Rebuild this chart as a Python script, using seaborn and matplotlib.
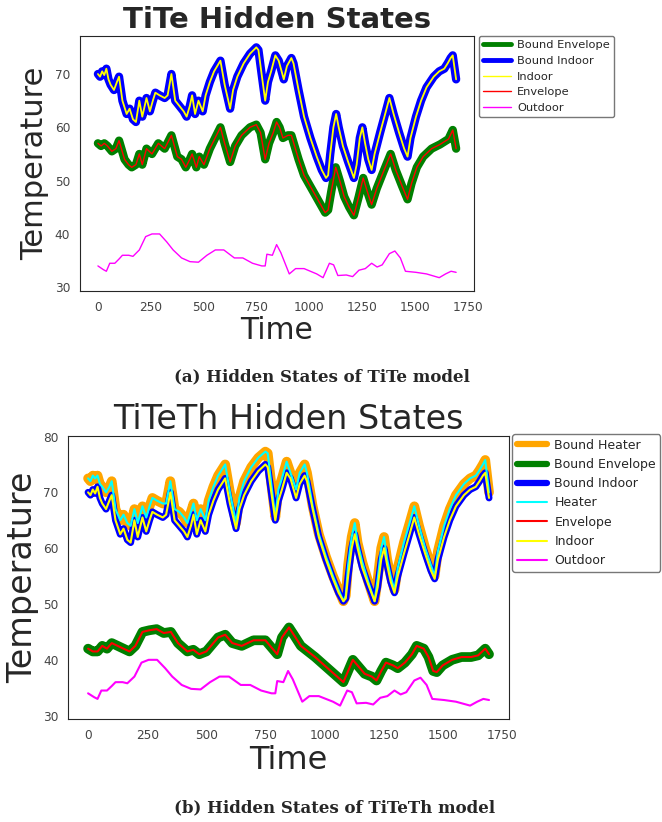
import matplotlib
matplotlib.use("Agg")
import matplotlib.pyplot as plt
import seaborn as sns

# values (time, temperature)
indoor_t = [0, 10, 20, 30, 40, 50, 60, 76, 90, 100, 116, 136, 150, 166, 180, 196, 210, 230, 246, 260,
            272, 292, 316, 330, 348, 366, 386, 406, 420, 435, 446, 460, 476, 496, 510, 530, 550, 580, 600, 626,
            640, 660, 690, 720, 750, 760, 775, 792, 805, 820, 840, 856, 880, 895, 916, 926, 950, 976, 1006, 1036,
            1060, 1080, 1090, 1100, 1115, 1128, 1140, 1160, 1185, 1212, 1225, 1240, 1252, 1265, 1280, 1296, 1310, 1336, 1360, 1380,
            1400, 1426, 1450, 1466, 1480, 1506, 1530, 1556, 1590, 1616, 1640, 1656, 1670, 1680, 1696]
indoor = [70, 69.5, 70.5, 69.8, 71, 69, 68, 67, 68.5, 69.5, 65, 62.5, 63.5, 61.5, 61, 65, 62, 65.5, 63, 65,
          66.5, 66, 65.5, 66, 70, 65, 64, 63, 62, 64, 66, 62.5, 65, 63, 66, 68.5, 70.5, 72.5, 68, 63.5,
          67, 69.5, 72, 73.8, 75, 74.5, 70, 65, 68.5, 70.5, 73.5, 72.5, 69, 71.5, 73, 72, 67, 62, 58, 54.5,
          52, 50.5, 51, 55, 60, 62.5, 60, 56.5, 53.5, 50.5, 53, 58, 60, 57, 54, 52, 55, 59, 62.5, 65.5,
          62.5, 59, 56, 54.5, 58, 62, 65, 67.5, 69.5, 70.5, 71, 72, 73, 73.5, 69]
heater = [72.5, 72, 73, 72.5, 73, 71.5, 71, 70, 71, 72, 67, 65, 66, 64.5, 64, 67, 64.5, 67.5, 65.5, 67.5,
          69, 68.5, 68, 68, 72, 67, 66.5, 65.5, 64.5, 66.5, 68, 65, 67, 65, 68.5, 71, 73, 75, 70, 64.5,
          69, 72, 74.5, 76.2, 77.3, 77, 71.5, 65.5, 70.5, 72.5, 75.5, 73.5, 70.5, 73.5, 75, 73.5, 67.5, 62.5, 58.5, 55,
          52.5, 50.5, 51.5, 57, 62, 64.5, 61, 57.5, 54, 50.5, 54.5, 60, 62, 58, 55, 52.5, 56.5, 61, 64.5, 67.5,
          64, 60, 57, 55, 59.5, 64, 67, 69.5, 71.5, 72.5, 73, 74, 75, 75.8, 70]

env_a_t = [0, 15, 30, 45, 66, 85, 100, 126, 145, 160, 180, 196, 210, 230, 256, 286, 316, 348, 376, 396,
           416, 435, 446, 466, 480, 502, 530, 580, 600, 626, 650, 680, 720, 750, 770, 792, 810, 830, 846, 860,
           876, 900, 916, 950, 976, 1026, 1076, 1090, 1105, 1126, 1145, 1166, 1190, 1212, 1235, 1256, 1275, 1296, 1320, 1350,
           1386, 1410, 1440, 1466, 1485, 1510, 1540, 1580, 1620, 1660, 1680, 1696]
envelope_a = [57, 56.5, 57, 56.5, 55.5, 56, 57.5, 54, 53, 52.5, 53, 55, 53, 56, 55, 57, 56, 58.5, 54.5, 54,
              52.5, 54, 55, 52.5, 54.5, 53, 56, 60, 57, 53.5, 56.5, 58.5, 60, 60.5, 59, 54, 57, 59, 61, 60,
              58, 58.5, 58.5, 54, 51, 47.5, 44, 44.5, 48, 52.5, 50, 47, 45, 43.5, 47, 50.5, 48, 45.5, 48.5, 51.5,
              55, 52, 49, 46.5, 49.5, 52.5, 54.5, 56, 56.8, 57.8, 59.5, 56]

env_b_t = [0, 20, 40, 60, 80, 100, 125, 150, 175, 200, 230, 260, 290, 320, 350, 380, 420, 445, 470, 500,
           530, 550, 580, 610, 650, 700, 750, 780, 800, 820, 850, 870, 900, 930, 960, 1000, 1040, 1080, 1100, 1120,
           1140, 1170, 1200, 1220, 1240, 1260, 1290, 1310, 1340, 1370, 1390, 1420, 1440, 1460, 1475, 1500, 1540, 1580, 1620, 1650,
           1680, 1696]
envelope_b = [42, 41.5, 41.5, 42.5, 42, 43, 42.5, 42, 41.5, 42.5, 45, 45.3, 45.5, 44.8, 45, 43, 41.5, 41.8, 41, 41.5,
              43, 44, 44.5, 43, 42.5, 43.5, 43.5, 42, 41, 44, 45.8, 44.5, 42.5, 41.5, 40.5, 39, 37.5, 36, 38, 40,
              39, 37.5, 37, 36.3, 38, 39.5, 39, 38.5, 39.5, 41, 42.5, 42, 40.5, 38, 37.8, 39, 40, 40.5, 40.5, 40.8,
              42, 41]

out_t = [0, 26, 40, 56, 80, 100, 116, 146, 166, 196, 226, 256, 292, 326, 356, 396, 436, 476, 516, 556,
         596, 646, 686, 732, 776, 792, 800, 826, 846, 866, 886, 906, 936, 976, 1006, 1036, 1066, 1096, 1116, 1136,
         1176, 1206, 1236, 1266, 1296, 1322, 1346, 1380, 1406, 1432, 1456, 1506, 1556, 1616, 1646, 1672, 1696]
outdoor = [34, 33.3, 33, 34.5, 34.5, 35.3, 36, 36, 35.8, 37, 39.5, 40, 40, 38.5, 37, 35.5, 34.8, 34.7, 36, 37,
           37, 35.5, 35.5, 34.5, 34, 34, 36.2, 36, 38, 36.5, 34.5, 32.5, 33.5, 33.5, 33, 32.5, 31.8, 34.5, 34.2, 32.2,
           32.3, 32, 33.2, 33.5, 34.5, 33.8, 34.2, 36.3, 36.8, 35.5, 33, 32.8, 32.5, 31.8, 32.5, 33, 32.8]

time_ticks = [0, 250, 500, 750, 1000, 1250, 1500, 1750]

sns.set_style("white")
fig = plt.figure(figsize=(6.62, 8.22), dpi=100)

# ---- (a) TiTe
ax1 = fig.add_axes([0.1208, 0.646, 0.595, 0.310])
sns.lineplot(x=env_a_t, y=envelope_a, ax=ax1, color="green", linewidth=6, label="Bound Envelope")
sns.lineplot(x=indoor_t, y=indoor, ax=ax1, color="blue", linewidth=6, label="Bound Indoor")
sns.lineplot(x=indoor_t, y=indoor, ax=ax1, color="yellow", linewidth=1.3, label="Indoor")
sns.lineplot(x=env_a_t, y=envelope_a, ax=ax1, color="red", linewidth=1, label="Envelope")
sns.lineplot(x=out_t, y=outdoor, ax=ax1, color="magenta", linewidth=1, label="Outdoor")
ax1.set_xlim(-85, 1780)
ax1.set_ylim(29.3, 77.1)
ax1.set_xticks(time_ticks)
ax1.set_yticks([30, 40, 50, 60, 70])
ax1.tick_params(labelsize=8.7, colors="#444444")
ax1.set_title("TiTe Hidden States", fontsize=21, fontweight="bold", pad=6)
ax1.set_xlabel("Time", fontsize=21.5, labelpad=2)
ax1.set_ylabel("Temperature", fontsize=22, labelpad=4)
leg1 = ax1.legend(loc="upper left", bbox_to_anchor=(1.013, 1.0), fontsize=8.2, frameon=True,
                  fancybox=True, edgecolor="#555555", borderaxespad=0, handlelength=2.5,
                  handletextpad=0.5, borderpad=0.35)
for line, lw in zip(leg1.get_lines(), [3.5, 3.5, 1, 1, 1]):
    line.set_linewidth(lw)

# ---- (b) TiTeTh
ax2 = fig.add_axes([0.1027, 0.1253, 0.666, 0.344])
sns.lineplot(x=indoor_t, y=heater, ax=ax2, color="orange", linewidth=7, label="Bound Heater")
sns.lineplot(x=env_b_t, y=envelope_b, ax=ax2, color="green", linewidth=7, label="Bound Envelope")
sns.lineplot(x=indoor_t, y=indoor, ax=ax2, color="blue", linewidth=5, label="Bound Indoor")
sns.lineplot(x=indoor_t, y=heater, ax=ax2, color="cyan", linewidth=1.5, label="Heater")
sns.lineplot(x=env_b_t, y=envelope_b, ax=ax2, color="red", linewidth=1.5, label="Envelope")
sns.lineplot(x=indoor_t, y=indoor, ax=ax2, color="yellow", linewidth=1.5, label="Indoor")
sns.lineplot(x=out_t, y=outdoor, ax=ax2, color="magenta", linewidth=1.5, label="Outdoor")
ax2.set_xlim(-85, 1780)
ax2.set_ylim(29.4, 80.05)
ax2.set_xticks(time_ticks)
ax2.set_yticks([30, 40, 50, 60, 70, 80])
ax2.tick_params(labelsize=8.7, colors="#444444")
ax2.set_title("TiTeTh Hidden States", fontsize=24, pad=5)
ax2.set_xlabel("Time", fontsize=23, labelpad=2)
ax2.set_ylabel("Temperature", fontsize=24, labelpad=3)
leg2 = ax2.legend(loc="upper left", bbox_to_anchor=(1.008, 1.007), fontsize=9, frameon=True,
                  fancybox=True, edgecolor="#555555", borderaxespad=0, handlelength=2.4,
                  handletextpad=0.6, borderpad=0.35)
for line, lw in zip(leg2.get_lines(), [4.5, 4.5, 4.5, 1.5, 1.5, 1.5, 1.5]):
    line.set_linewidth(lw)

fig.text(0.487, 1 - 377 / 822, "(a) Hidden States of TiTe model", ha="center", va="center",
         fontsize=12, fontweight="bold", family="DejaVu Serif")
fig.text(0.505, 1 - 808 / 822, "(b) Hidden States of TiTeTh model", ha="center", va="center",
         fontsize=12, fontweight="bold", family="DejaVu Serif")

fig.savefig("out.png", dpi=100)
